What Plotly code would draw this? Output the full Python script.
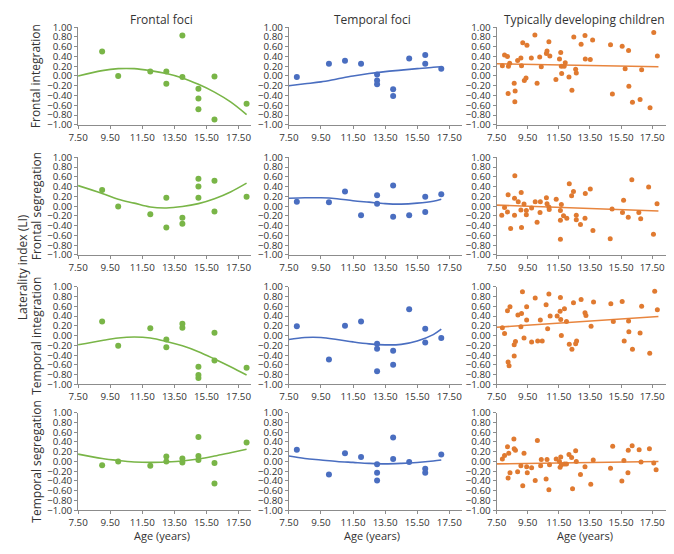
import numpy as np
import plotly.graph_objects as go

# ---------------- labels ----------------
col_titles = ["Frontal foci", "Temporal foci", "Typically developing children"]
row_titles = ["Frontal integration", "Frontal segregation",
              "Temporal integration", "Temporal segregation"]
y_title = "Laterality index (LI)"
x_title = "Age (years)"
x_ticks = [7.5, 9.5, 11.5, 13.5, 15.5, 17.5]
y_ticks = [-1.0, -0.8, -0.6, -0.4, -0.2, 0.0, 0.2, 0.4, 0.6, 0.8, 1.0]

# ---------------- Frontal foci ----------------
ff_age = [9, 10, 12, 13, 13, 14, 14, 15, 15, 15, 16, 16, 18]
ff_fi = [0.50, 0.00, 0.09, 0.09, -0.16, 0.83, -0.02, -0.26, -0.46, -0.68, -0.01, -0.89, -0.57]
ff_fs = [0.33, -0.01, -0.17, 0.17, -0.44, -0.24, -0.36, 0.56, 0.40, 0.17, 0.52, -0.11, 0.19]
ff_ti = [0.29, -0.21, 0.15, -0.08, -0.24, 0.24, 0.16, -0.64, -0.81, -0.87, 0.06, -0.51, -0.66]
ff_ts = [-0.08, 0.00, -0.09, 0.10, 0.00, 0.06, -0.02, 0.50, 0.11, 0.03, -0.03, -0.45, 0.39]

# trend lines
ff_fit_age = [7.5, 9, 10, 11, 12, 13, 14, 15, 16, 17, 18]
ff_fi_fit = [0.00, 0.11, 0.15, 0.15, 0.11, 0.05, -0.04, -0.17, -0.33, -0.53, -0.79]
ff_fs_fit = [0.42, 0.26, 0.14, 0.06, -0.02, -0.04, -0.01, 0.05, 0.15, 0.29, 0.47]
ff_ti_fit = [-0.19, -0.10, -0.05, -0.03, -0.05, -0.12, -0.21, -0.33, -0.48, -0.64, -0.81]
ff_ts_fit = [0.15, 0.06, 0.02, -0.01, -0.02, -0.01, 0.01, 0.05, 0.11, 0.18, 0.25]

# ---------------- Temporal foci ----------------
tf_age = [8, 10, 11, 12, 13, 13, 13, 14, 14, 15, 16, 16, 17]
tf_age_fs = [8, 10, 11, 12, 13, 13, 14, 14, 15, 16, 16, 17]
tf_fi = [-0.02, 0.25, 0.31, 0.25, 0.03, -0.09, -0.17, -0.27, -0.41, 0.36, 0.43, 0.25, 0.15]
tf_fs = [0.09, 0.08, 0.30, -0.19, 0.22, 0.05, 0.42, -0.22, -0.19, 0.19, -0.12, 0.24]
tf_ti = [0.19, -0.49, 0.20, 0.29, -0.17, -0.27, -0.73, -0.31, -0.60, 0.54, 0.14, -0.14, -0.05]
tf_ts = [0.24, -0.27, 0.17, 0.09, -0.06, -0.23, -0.39, 0.49, 0.05, -0.01, -0.15, -0.23, 0.14]

tf_fit_age = [7.5, 8.5, 9.5, 10.5, 11.5, 12.5, 13.5, 14.5, 15.5, 16.5, 17]
tf_fi_fit = [-0.20, -0.16, -0.12, -0.06, 0.00, 0.05, 0.09, 0.12, 0.15, 0.18, 0.19]
tf_fs_fit = [0.16, 0.17, 0.17, 0.15, 0.11, 0.08, 0.05, 0.04, 0.06, 0.10, 0.14]
tf_ti_fit = [-0.08, -0.04, -0.04, -0.08, -0.13, -0.17, -0.19, -0.18, -0.11, 0.02, 0.13]
tf_ts_fit = [0.11, 0.06, 0.03, 0.00, -0.02, -0.04, -0.05, -0.04, -0.02, 0.01, 0.03]

# ---------------- Typically developing children ----------------
td_age_fi = [7.87, 8.01, 8.20, 8.26, 8.34, 8.24, 8.63, 8.67, 8.69, 8.85, 9.06, 9.10, 9.18, 9.28,
             9.39, 9.45, 9.73, 9.96, 10.10, 10.27, 10.37, 10.70, 10.74, 10.86, 10.92, 11.31,
             11.54, 11.62, 11.66, 11.68, 11.84, 11.91, 12.15, 12.34, 12.46, 12.58, 12.62, 12.93,
             13.18, 13.20, 13.52, 13.67, 14.82, 14.94, 15.57, 15.76, 15.98, 16.00, 16.23, 16.72,
             16.82, 17.36, 17.60, 17.83]
td_fi = [0.21, 0.43, 0.40, 0.20, 0.26, -0.36, -0.15, -0.53, -0.31, 0.32, 0.37, 0.21, 0.68, -0.09,
         -0.04, 0.63, 0.37, 0.84, -0.15, 0.39, 0.19, 0.46, 0.51, 0.70, 0.41, -0.07,
         0.35, 0.48, 0.20, 0.05, 0.20, 0.27, -0.02, -0.29, 0.80, 0.14, 0.06, 0.65,
         0.83, 0.35, 0.34, 0.74, 0.64, -0.37, 0.61, 0.15, 0.52, -0.21, -0.54, -0.48,
         0.13, -0.65, 0.89, 0.41]

td_age_fs = [7.83, 8.01, 8.20, 8.24, 8.40, 8.65, 8.65, 8.67, 8.89, 9.06, 9.10, 9.08, 9.26, 9.41,
             9.41, 9.75, 9.98, 10.10, 10.31, 10.29, 10.70, 10.74, 10.86, 10.88, 11.33, 11.60,
             11.60, 11.60, 11.66, 11.80, 12.01, 12.17, 12.32, 12.44, 12.62, 12.62, 12.89, 13.18,
             13.20, 13.52, 13.69, 14.92, 14.80, 15.59, 15.66, 15.96, 16.19, 16.64, 16.76, 17.27,
             17.58, 17.81]
td_fs = [-0.19, -0.03, -0.12, 0.23, -0.46, 0.16, -0.19, 0.62, 0.09, -0.08, -0.44, 0.28, 0.04, -0.09,
         -0.18, -0.04, 0.09, -0.33, 0.09, -0.13, 0.17, 0.05, -0.02, -0.07, 0.14, -0.09,
         -0.29, -0.68, 0.03, -0.20, -0.25, 0.46, 0.21, 0.30, -0.19, -0.28, -0.38, -0.25,
         0.26, 0.35, -0.50, -0.06, -0.67, -0.13, 0.12, -0.23, 0.54, -0.13, -0.26, 0.39,
         -0.58, 0.05]

td_age_ti = [7.87, 8.01, 8.20, 8.24, 8.30, 8.36, 8.63, 8.63, 8.71, 8.87, 9.06, 9.10, 9.16, 9.26,
             9.43, 9.43, 9.75, 9.98, 10.14, 10.31, 10.43, 10.68, 10.78, 10.86, 10.94, 11.39,
             11.58, 11.62, 11.66, 11.60, 11.86, 11.99, 12.17, 12.34, 12.44, 12.58, 12.64, 12.93,
             13.18, 13.24, 13.57, 13.73, 14.84, 15.00, 15.57, 15.70, 15.98, 16.00, 16.23, 16.72,
             16.82, 17.34, 17.66, 17.83]
td_ti = [0.16, 0.04, 0.51, -0.54, -0.62, 0.59, -0.19, -0.42, -0.12, 0.42, 0.18, 0.45, 0.90, -0.05,
         0.59, 0.32, -0.13, 0.77, -0.11, 0.32, -0.11, 0.63, 0.14, 0.85, 0.40, 0.40,
         0.50, 0.33, 0.00, 0.78, 0.55, 0.29, -0.18, -0.28, 0.67, -0.17, -0.11, 0.74,
         0.47, 0.41, 0.19, 0.69, 0.65, 0.29, 0.70, -0.11, 0.30, 0.08, -0.28, 0.05,
         0.60, -0.36, 0.91, 0.53]

td_age_ts = [7.87, 8.01, 8.20, 8.24, 8.28, 8.36, 8.61, 8.63, 8.71, 8.85, 9.06, 9.18, 9.26, 9.43,
             9.47, 9.75, 9.98, 10.12, 10.33, 10.37, 10.68, 10.74, 10.86, 10.90, 11.33, 11.54,
             11.58, 11.62, 11.66, 11.86, 11.99, 12.15, 12.32, 12.38, 12.58, 12.62, 12.89, 13.18,
             13.55, 13.71, 14.82, 14.96, 15.55, 15.68, 15.94, 15.96, 16.21, 16.66, 16.78, 17.32,
             17.60, 17.75]
td_ts = [0.05, 0.12, 0.30, -0.34, 0.17, -0.23, 0.46, 0.26, 0.23, -0.21, -0.09, -0.50, 0.17, -0.11,
         -0.23, -0.13, -0.39, 0.43, -0.09, 0.04, -0.36, 0.04, -0.58, -0.07, 0.05, 0.00,
         -0.12, 0.09, -0.07, -0.05, -0.05, 0.14, 0.08, -0.56, 0.22, 0.00, -0.27, -0.11,
         -0.47, 0.03, -0.14, 0.31, -0.40, 0.02, -0.23, 0.23, 0.32, 0.24, -0.01, 0.26,
         -0.03, -0.17]

td_fit_age = [7.5, 17.9]
td_fi_fit = [0.25, 0.19]
td_fs_fit = [0.02, -0.10]
td_ti_fit = [0.17, 0.39]
td_ts_fit = [-0.05, 0.00]

GREEN = "#79B547"
BLUE = "#4A6EC0"
ORANGE = "#E07A30"
ORANGE_LINE = "#E8853E"

panels = [
    [(ff_age, ff_fi, ff_fit_age, ff_fi_fit, GREEN, GREEN),
     (tf_age, tf_fi, tf_fit_age, tf_fi_fit, BLUE, BLUE),
     (td_age_fi, td_fi, td_fit_age, td_fi_fit, ORANGE, ORANGE_LINE)],
    [(ff_age, ff_fs, ff_fit_age, ff_fs_fit, GREEN, GREEN),
     (tf_age_fs, tf_fs, tf_fit_age, tf_fs_fit, BLUE, BLUE),
     (td_age_fs, td_fs, td_fit_age, td_fs_fit, ORANGE, ORANGE_LINE)],
    [(ff_age, ff_ti, ff_fit_age, ff_ti_fit, GREEN, GREEN),
     (tf_age, tf_ti, tf_fit_age, tf_ti_fit, BLUE, BLUE),
     (td_age_ti, td_ti, td_fit_age, td_ti_fit, ORANGE, ORANGE_LINE)],
    [(ff_age, ff_ts, ff_fit_age, ff_ts_fit, GREEN, GREEN),
     (tf_age, tf_ts, tf_fit_age, tf_ts_fit, BLUE, BLUE),
     (td_age_ts, td_ts, td_fit_age, td_ts_fit, ORANGE, ORANGE_LINE)],
]

# The page body keeps its default 8px margin, so the figure is sized to fit the
# 674x554 window exactly (674-16, 554-16); positions below are in figure pixels.
W, H = 658, 538
col_px = [(61, 237.0), (275, 451.0), (486, 658)]
col_rng = [[7.5, 18.3], [7.5, 18.3], [7.5, 7.5 + (658 - 486) / 15.8]]
row_px = [(12.5, 112.5), (145.8, 245.8), (278.5, 378.5), (407.5, 507.5)]
title_cx = [146, 359.5, 575.5]

FONT = "Open Sans"
TXT = "#333333"
AX = "#8C8C8C"
TICKSZ = 9.8

fig = go.Figure()
layout = dict(
    width=W, height=H, margin=dict(l=0, r=0, t=0, b=0), autosize=False,
    paper_bgcolor="white", plot_bgcolor="white", showlegend=False,
    font=dict(family=FONT, color=TXT, size=10),
)
annotations = []

for r in range(4):
    for c in range(3):
        k = r * 3 + c + 1
        xa = "x" if k == 1 else f"x{k}"
        ya = "y" if k == 1 else f"y{k}"
        ages, vals, fx, fy, mcol, lcol = panels[r][c]
        fig.add_trace(go.Scatter(x=fx, y=fy, mode="lines", xaxis=xa, yaxis=ya,
                                 line=dict(color=lcol, width=1.6, shape="spline", smoothing=1.0),
                                 hoverinfo="skip"))
        fig.add_trace(go.Scatter(x=ages, y=vals, mode="markers", xaxis=xa, yaxis=ya,
                                 cliponaxis=False,
                                 marker=dict(color=mcol, size=6 if c < 2 else 5, line=dict(width=0))))
        x0, x1 = col_px[c]
        y0, y1 = row_px[r]
        layout["xaxis" if k == 1 else f"xaxis{k}"] = dict(
            domain=[x0 / W, x1 / W], anchor=ya, range=col_rng[c],
            tickvals=x_ticks, tickformat=".2f", showgrid=False, zeroline=False,
            showline=True, linecolor=AX, linewidth=1, ticks="outside", ticklen=3,
            tickcolor=AX, tickfont=dict(size=TICKSZ, color=TXT, family=FONT),
            ticklabeloverflow="allow",
        )
        layout["yaxis" if k == 1 else f"yaxis{k}"] = dict(
            domain=[1 - y1 / H, 1 - y0 / H], anchor=xa, range=[-1.0, 1.0],
            tickvals=y_ticks, tickformat=".2f", showgrid=False, zeroline=False,
            showline=True, linecolor=AX, linewidth=1, ticks="outside", ticklen=3,
            tickcolor=AX, tickfont=dict(size=TICKSZ, color=TXT, family=FONT),
        )

for c, t in enumerate(col_titles):
    annotations.append(dict(text=t, x=title_cx[c] / W, y=1 - 5.0 / H, xref="paper", yref="paper",
                            showarrow=False, xanchor="center", yanchor="middle",
                            font=dict(size=12, color=TXT, family=FONT)))
for r, t in enumerate(row_titles):
    y0, y1 = row_px[r]
    annotations.append(dict(text=t, x=18.5 / W, y=1 - (y0 + y1) / 2 / H, xref="paper", yref="paper",
                            showarrow=False, textangle=-90, xanchor="center", yanchor="middle",
                            font=dict(size=12, color=TXT, family=FONT)))
annotations.append(dict(text=y_title, x=4.5 / W, y=1 - 258 / H, xref="paper", yref="paper",
                        showarrow=False, textangle=-90, xanchor="center", yanchor="middle",
                        font=dict(size=12, color=TXT, family=FONT)))
for c in range(3):
    annotations.append(dict(text=x_title, x=title_cx[c] / W, y=1 - 533.3 / H, xref="paper", yref="paper",
                            showarrow=False, xanchor="center", yanchor="middle",
                            font=dict(size=11, color=TXT, family=FONT)))
layout["annotations"] = annotations
fig.update_layout(**layout)
fig.write_html("out.html", config={"displayModeBar": False, "staticPlot": True})
